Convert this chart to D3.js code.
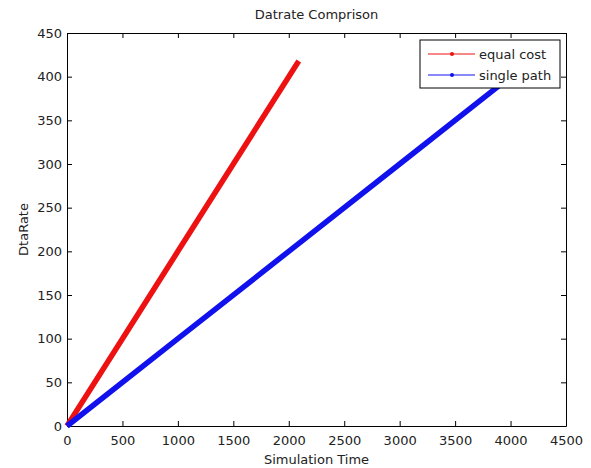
<!DOCTYPE html>
<html>
<head>
<meta charset="utf-8">
<script src="https://cdn.jsdelivr.net/npm/d3@7"></script>
<style>
  body { margin: 0; background: #fff; }
  svg { font-family: "DejaVu Sans", sans-serif; }
</style>
</head>
<body>
<svg id="chart"></svg>
<script>
// data
const equalTime = [0, 500, 1000, 1500, 2090];
const equalRate = [0, 100, 200, 300, 418];
const singleTime = [0, 1000, 2000, 3000, 4000];
const singleRate = [0, 100, 200, 300, 400];
const xTicks = [0, 500, 1000, 1500, 2000, 2500, 3000, 3500, 4000, 4500];
const yTicks = [0, 50, 100, 150, 200, 250, 300, 350, 400, 450];
const seriesNames = ['equal cost', 'single path'];
const seriesColors = ['#ee1111', '#1111ee'];

const width = 591;
const height = 468;
const margin = { left: 67, right: 25, top: 33, bottom: 42 };
const fontFam = '"DejaVu Sans", sans-serif';
const fs = 13;

const svg = d3.select('#chart')
    .attr('width', width)
    .attr('height', height);

const x = d3.scaleLinear().domain([0, 4500]).range([margin.left, width - margin.right]);
const y = d3.scaleLinear().domain([0, 450]).range([height - margin.bottom, margin.top]);
const fmt = d3.format('d');

// axes with inward ticks on all sides
svg.append('g')
    .attr('transform', `translate(0, ${y(0)})`)
    .call(d3.axisBottom(x).tickValues(xTicks).tickFormat(fmt).tickSizeInner(-5).tickSizeOuter(0).tickPadding(10));
svg.append('g')
    .attr('transform', `translate(0, ${y(450)})`)
    .call(d3.axisTop(x).tickValues(xTicks).tickSizeInner(-5).tickSizeOuter(0).tickFormat(''));
svg.append('g')
    .attr('transform', `translate(${x(0)}, 0)`)
    .call(d3.axisLeft(y).tickValues(yTicks).tickFormat(fmt).tickSizeInner(-5).tickSizeOuter(0).tickPadding(5));
svg.append('g')
    .attr('transform', `translate(${x(4500)}, 0)`)
    .call(d3.axisRight(y).tickValues(yTicks).tickSizeInner(-5).tickSizeOuter(0).tickFormat(''));

svg.selectAll('.domain').attr('stroke', '#000');
svg.selectAll('.tick line').attr('stroke', '#000');
svg.selectAll('.tick text').attr('font-size', fs).attr('fill', '#222')
    .attr('font-family', fontFam);

// lines
const series = [
    { name: seriesNames[0], color: seriesColors[0], pts: equalTime.map((t, i) => [t, equalRate[i]]) },
    { name: seriesNames[1], color: seriesColors[1], pts: singleTime.map((t, i) => [t, singleRate[i]]) }
];
const line = d3.line().x(d => x(d[0])).y(d => y(d[1]));

svg.selectAll('path.series')
    .data(series)
    .enter()
    .append('path')
    .attr('class', 'series')
    .attr('d', d => line(d.pts))
    .attr('fill', 'none')
    .attr('stroke', d => d.color)
    .attr('stroke-width', 5.5);

// legend
const lg = svg.append('g').attr('transform', 'translate(420, 40)');
lg.append('rect')
    .attr('width', 140).attr('height', 48)
    .attr('fill', '#fff').attr('stroke', '#000');
series.forEach((s, i) => {
    const yy = 14 + i * 21;
    lg.append('line').attr('x1', 8).attr('x2', 55).attr('y1', yy).attr('y2', yy)
        .attr('stroke', s.color).attr('stroke-width', 1);
    lg.append('circle').attr('cx', 32).attr('cy', yy).attr('r', 2).attr('fill', s.color);
    lg.append('text').attr('x', 59).attr('y', yy + 5)
        .attr('font-size', fs).attr('fill', '#222').text(s.name);
});

// titles
svg.append('text')
    .attr('x', (x(0) + x(4500)) / 2).attr('y', 19)
    .attr('text-anchor', 'middle').attr('font-size', fs).attr('fill', '#222')
    .text('Datrate Comprison');
svg.append('text')
    .attr('x', (x(0) + x(4500)) / 2).attr('y', 464)
    .attr('text-anchor', 'middle').attr('font-size', fs).attr('fill', '#222')
    .text('Simulation Time');
svg.append('text')
    .attr('transform', `translate(28, ${(y(0) + y(450)) / 2}) rotate(-90)`)
    .attr('text-anchor', 'middle').attr('font-size', fs).attr('fill', '#222')
    .text('DtaRate');
</script>
</body>
</html>
